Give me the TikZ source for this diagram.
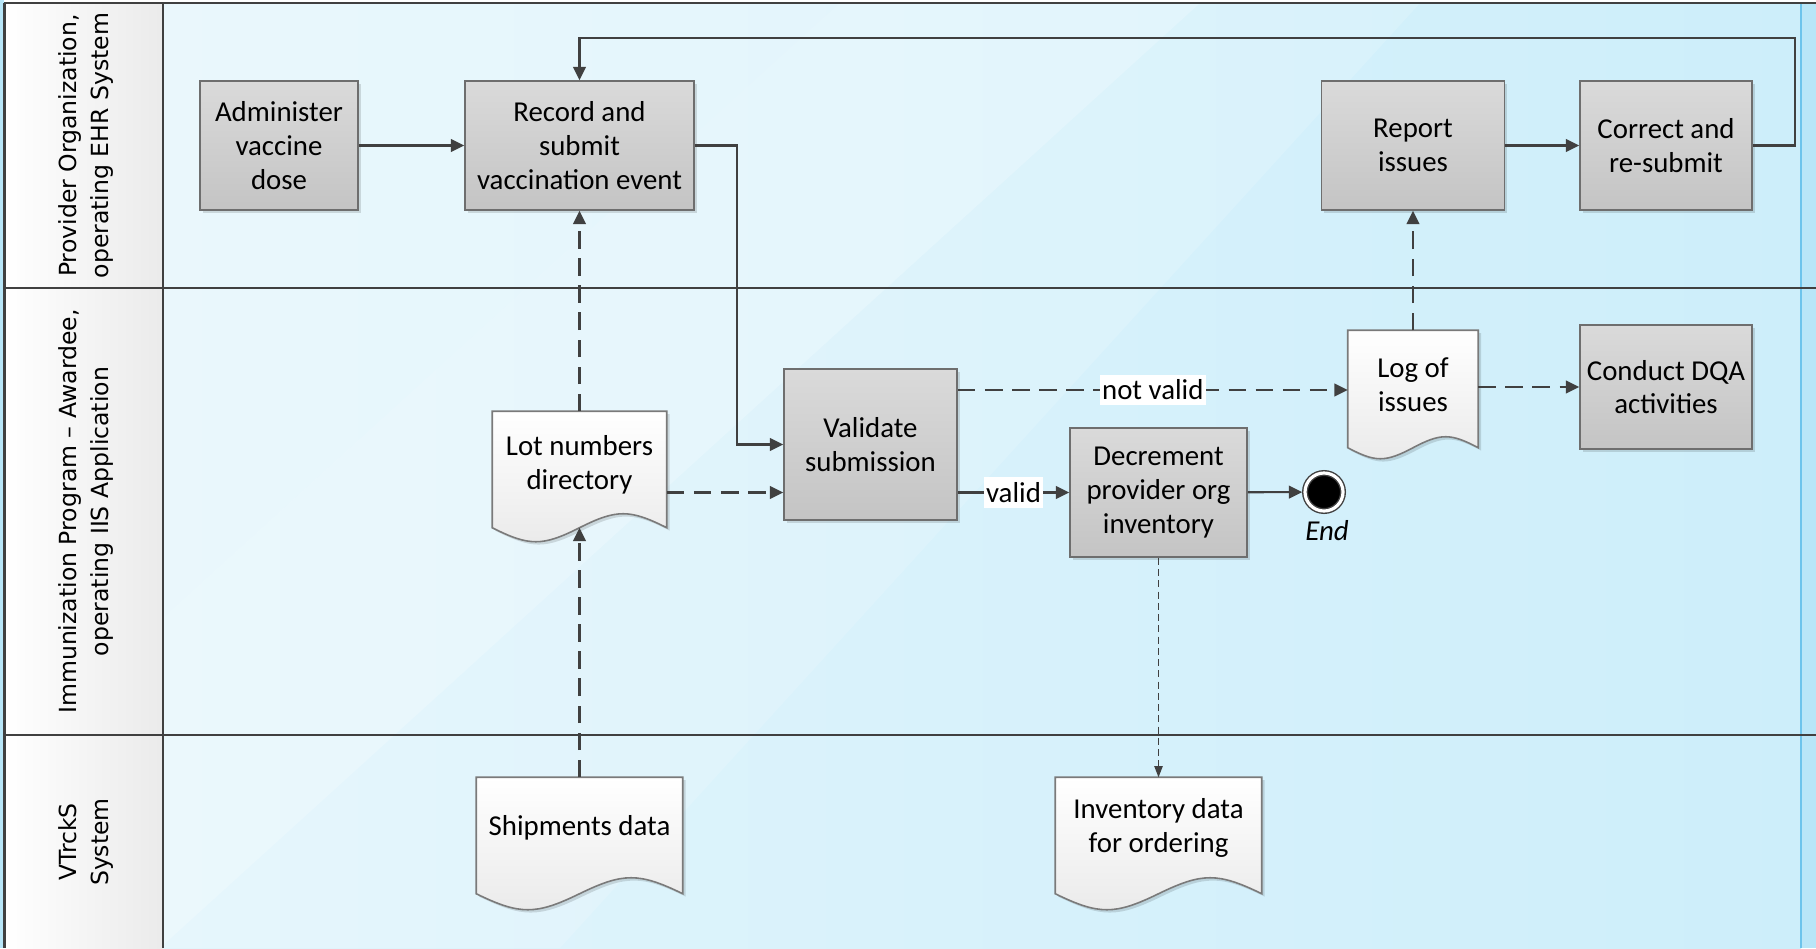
\documentclass[tikz,border=0pt]{standalone}
\usepackage{fontspec}
\setmainfont{Carlito}
\newfontfamily\lanefont{DejaVu Sans}
\usetikzlibrary{arrows.meta,calc,shadows}
\definecolor{linec}{HTML}{404040}
\definecolor{boxtop}{HTML}{DADADA}
\definecolor{boxbot}{HTML}{C4C4C4}
\definecolor{boxline}{HTML}{6E6E6E}
\definecolor{docbot}{HTML}{EAEAEA}
\definecolor{docline}{HTML}{7A7A7A}
\definecolor{bgleft}{HTML}{E2F5FC}
\definecolor{bgright}{HTML}{CDEEFA}
\definecolor{edgeblue}{HTML}{6CC4EC}
\definecolor{stripblue}{HTML}{B8E6F8}
\newcommand{\nodefont}{\fontsize{8.2}{9.6}\selectfont}
\pgfdeclarelayer{back}
\pgfdeclarelayer{mid}
\pgfsetlayers{back,mid,main}
% #1 node name, #2 wave amplitude, #3 offset of the wave mid-line below the node's south side
\newcommand{\docdraw}[3]{%
  \fill[black, opacity=0.13, transform canvas={shift={(0.8pt,-0.8pt)}}]
    (#1.north west) -- (#1.north east) -- ($(#1.south east)+(0,#3)$)
    .. controls ($(#1.south west)!0.788!(#1.south east)+(0,{#3-1.333*#2})$) and ($(#1.south west)!0.712!(#1.south east)+(0,{#3-1.333*#2})$) .. ($(#1.south)+(0,#3)$)
    .. controls ($(#1.south west)!0.288!(#1.south east)+(0,{#3+1.333*#2})$) and ($(#1.south west)!0.212!(#1.south east)+(0,{#3+1.333*#2})$) .. ($(#1.south west)+(0,#3)$) -- cycle;
  \path[draw=docline, line width=0.45pt, top color=white, bottom color=docbot]
    (#1.north west) -- (#1.north east) -- ($(#1.south east)+(0,#3)$)
    .. controls ($(#1.south west)!0.788!(#1.south east)+(0,{#3-1.333*#2})$) and ($(#1.south west)!0.712!(#1.south east)+(0,{#3-1.333*#2})$) .. ($(#1.south)+(0,#3)$)
    .. controls ($(#1.south west)!0.288!(#1.south east)+(0,{#3+1.333*#2})$) and ($(#1.south west)!0.212!(#1.south east)+(0,{#3+1.333*#2})$) .. ($(#1.south west)+(0,#3)$) -- cycle;}
\begin{document}
\begin{tikzpicture}[x=0.01cm,y=-0.01cm,
  procbox/.style={rectangle, draw=boxline, line width=0.45pt, top color=boxtop, bottom color=boxbot,
    align=center, font=\nodefont, inner sep=1pt,
    drop shadow={shadow xshift=0.8pt, shadow yshift=-0.8pt, opacity=0.13, fill=black}},
  docbox/.style={rectangle, draw=none, align=center, font=\nodefont, inner sep=1pt},
  conn/.style={draw=linec, line width=0.6pt, -{Triangle[length=3.8pt,width=3.6pt]}},
  dconn/.style={conn, dash pattern=on 5pt off 2.7pt},
  tconn/.style={draw=linec, line width=0.3pt, dash pattern=on 2pt off 1.2pt, -{Triangle[length=3.2pt,width=2.4pt]}},
  edgelbl/.style={fill=white, font=\nodefont, inner xsep=0.6pt, inner ysep=1.5pt},
  lanelbl/.style={rotate=90, align=center, font=\lanefont\fontsize{6.7}{9.1}\selectfont},
  laneline/.style={draw=linec, line width=0.7pt}]
\useasboundingbox (0,0) rectangle (1816,948);

% ---------- background ----------
\begin{pgfonlayer}{back}
  \fill[white] (0,0) rectangle (1816,948);
  \fill[left color=bgleft, right color=bgright] (163,3) rectangle (1801,948);
  \begin{scope}
    \clip (163,3) rectangle (1801,948);
    \fill[white, opacity=0.28] (163,3) -- (840,3) -- (-200,948) -- (163,948) -- cycle;
    \fill[white, opacity=0.32] (840,3) -- (1200,3) -- (160,948) -- (-200,948) -- cycle;
    \fill[white, opacity=0.15] (1200,3) -- (1420,3) -- (560,948) -- (160,948) -- cycle;
  \end{scope}
  \fill[stripblue] (1801,3) rectangle (1816,948);
  \draw[edgeblue, line width=0.6pt] (1801,3) -- (1801,948);
  \fill[stripblue] (0,0) rectangle (4,948);
  \fill[left color=white, right color=black!8] (5,3) rectangle (163,948);
  \draw[linec, line width=0.45pt] (163,3) -- (163,948);
  \draw[linec, line width=0.6pt] (4.5,3) -- (4.5,948);
  \draw[laneline] (4,3) -- (1816,3);
  \draw[laneline] (4,288) -- (1816,288);
  \draw[laneline] (4,735) -- (1816,735);
\end{pgfonlayer}

% ---------- lane labels ----------
\node[lanelbl] (lane1) at (86,145.5) {Provider Organization,\\operating EHR System};
\node[lanelbl] (lane2) at (86,511.5) {Immunization Program – Awardee,\\operating IIS Application};
\node[lanelbl] (lane3) at (86,842) {VTrckS\\System};

% ---------- process boxes ----------
\node[procbox, minimum width=1.58cm, minimum height=1.29cm] (adm) at (279,145.5) {Administer\\vaccine\\dose};
\node[procbox, minimum width=2.29cm, minimum height=1.29cm] (rec) at (579.5,145.5) {Record and\\submit\\vaccination event};
\node[procbox, minimum width=1.83cm, minimum height=1.29cm] (rep) at (1413,145.5) {Report\\issues};
\node[procbox, minimum width=1.72cm, minimum height=1.29cm] (cor) at (1666,145.5) {Correct and\\re-submit};
\node[procbox, minimum width=1.73cm, minimum height=1.51cm] (val) at (870.5,444.5) {Validate\\submission};
\node[procbox, minimum width=1.77cm, minimum height=1.29cm] (dec) at (1158.5,492.5) {Decrement\\provider org\\inventory};
\node[procbox, minimum width=1.72cm, minimum height=1.24cm] (dqa) at (1666,387) {Conduct DQA\\activities};

% ---------- documents ----------
\node[docbox, minimum width=1.73cm, minimum height=1.06cm] (lot) at (579.5,465) {Lot numbers\\directory};
\node[docbox, minimum width=1.29cm, minimum height=1.08cm] (log) at (1413,385) {Log of\\issues};
\node[docbox, minimum width=2.05cm, minimum height=1cm] (shp) at (579.5,828) {Shipments data};
\node[docbox, minimum width=2.05cm, minimum height=1cm] (inv) at (1158.5,828) {Inventory data\\for ordering};
\begin{pgfonlayer}{mid}
  \docdraw{lot}{14}{9}
  \docdraw{log}{11}{8}
  \docdraw{shp}{16}{15}
  \docdraw{inv}{16}{15}
\end{pgfonlayer}

% ---------- end event ----------
\node[circle, minimum size=0.38cm, inner sep=0pt, fill=black, draw=linec, line width=0.4pt,
  double=white, double distance=0.9pt] (end) at (1324,492) {};
\node[font=\nodefont\itshape] (endlbl) at (1327,531) {End};

% ---------- helper coordinates ----------
\coordinate (rv) at (737,300);
\coordinate (lp) at (1795,38);
\coordinate (nv) at (1000,390);
\coordinate (lotb) at ($(lot.south)+(0,9)$);

% ---------- connectors ----------
\draw[conn] (adm) -- (rec);
\draw[conn] (rec.east) -| (rv) |- (val.west);
\draw[conn] (rep) -- (cor);
\draw[conn] (cor.east) -| (lp) -| (rec.north);
\draw[dconn] (lot.north) -- (rec.south);
\draw[dconn] (shp.north) -- (lotb);
\draw[dconn] (lot.east |- dec) -- (val.west |- dec);
\draw[conn] (val.east |- dec) -- node[edgelbl] {valid} (dec.west);
\draw[dconn] (val.east |- nv) -- node[edgelbl] {not valid} (log.west |- nv);
\draw[dconn] (log.north) -- (rep.south);
\draw[dconn] (log.east |- dqa) -- (dqa.west);
\draw[conn, shorten >=0.6pt] (dec) -- (end);
\draw[tconn] (dec.south) -- (inv.north);
\end{tikzpicture}
\end{document}
